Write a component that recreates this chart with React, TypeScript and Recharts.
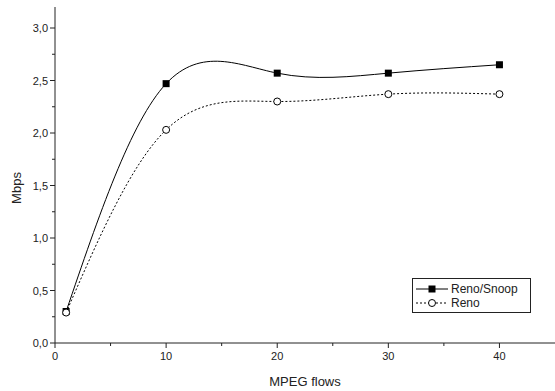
import React from 'react';
import { LineChart, Line, XAxis, YAxis, Legend } from 'recharts';

const xValues = [1, 10, 20, 30, 40];
const renoSnoop = [0.3, 2.47, 2.57, 2.57, 2.65];
const reno = [0.29, 2.03, 2.3, 2.37, 2.37];
const xTicks = [0, 5, 10, 15, 20, 25, 30, 35, 40];
const xMajor = [0, 10, 20, 30, 40];
const yTicks = [0, 0.25, 0.5, 0.75, 1, 1.25, 1.5, 1.75, 2, 2.25, 2.5, 2.75, 3];
const yMajor = [0, 0.5, 1, 1.5, 2, 2.5, 3];

const data = xValues.map((x, i) => ({ x, renoSnoop: renoSnoop[i], reno: reno[i] }));

const FONT = '"Liberation Sans", Arial, sans-serif';
const INK = '#222';

const XTick = (props: any) => {
  const { x, y, payload } = props;
  const v = payload.value;
  const major = xMajor.includes(v);
  return (
    <g>
      <line x1={x} x2={x} y1={y} y2={y + (major ? 5 : 3)} stroke={INK} strokeWidth={1} />
      {major && (
        <text x={x} y={y + 17} textAnchor="middle" fontSize={11} fontFamily={FONT} fill={INK}>
          {String(v)}
        </text>
      )}
    </g>
  );
};

const YTick = (props: any) => {
  const { x, y, payload } = props;
  const v = payload.value;
  const major = yMajor.some((m) => Math.abs(m - v) < 1e-9);
  return (
    <g>
      <line x1={x} x2={x - (major ? 5 : 3)} y1={y} y2={y} stroke={INK} strokeWidth={1} />
      {major && (
        <text x={x - 7} y={y + 4} textAnchor="end" fontSize={11} fontFamily={FONT} fill={INK}>
          {v.toFixed(1).replace('.', ',')}
        </text>
      )}
    </g>
  );
};

const Square = (props: any) => {
  const { cx, cy } = props;
  if (cx == null || cy == null) return null;
  return <rect x={cx - 3.5} y={cy - 3.5} width={7} height={7} fill="#000" />;
};

const Circle = (props: any) => {
  const { cx, cy } = props;
  if (cx == null || cy == null) return null;
  return <circle cx={cx} cy={cy} r={3.5} fill="#fff" stroke="#000" strokeWidth={1} />;
};

const LegendContent = () => (
  <div
    style={{
      border: `1px solid ${INK}`,
      width: 119,
      height: 35,
      boxSizing: 'border-box',
      fontFamily: FONT,
      fontSize: 12,
      color: INK,
      paddingLeft: 3,
      paddingTop: 3,
      background: '#fff',
    }}
  >
    <div style={{ display: 'flex', alignItems: 'center', height: 14 }}>
      <svg width={32} height={12} style={{ marginRight: 3 }}>
        <line x1={0} x2={32} y1={6} y2={6} stroke="#000" strokeWidth={1} />
        <rect x={12.5} y={2.5} width={7} height={7} fill="#000" />
      </svg>
      <span>Reno/Snoop</span>
    </div>
    <div style={{ display: 'flex', alignItems: 'center', height: 14 }}>
      <svg width={32} height={12} style={{ marginRight: 3 }}>
        <line x1={0} x2={32} y1={6} y2={6} stroke="#000" strokeWidth={1} strokeDasharray="2 2" />
        <circle cx={16} cy={6} r={3.5} fill="#fff" stroke="#000" strokeWidth={1} />
      </svg>
      <span>Reno</span>
    </div>
  </div>
);

export default function App() {
  return (
    <div style={{ position: 'absolute', left: 0, top: 0, width: 555, height: 391, background: '#fff' }}>
      <LineChart width={555} height={391} data={data} margin={{ top: 7, right: 0, left: 0, bottom: 0 }}>
        <XAxis
          dataKey="x"
          type="number"
          domain={[0, 45]}
          ticks={xTicks}
          interval={0}
          tickLine={false}
          tickSize={0}
          tickMargin={0}
          tick={<XTick />}
          height={48}
          stroke={INK}
          axisLine={{ stroke: INK, strokeWidth: 1 }}
          label={(p: any) => {
            const vb = p.viewBox;
            return (
              <text x={vb.x + vb.width / 2} y={vb.y + 43} textAnchor="middle" fontSize={13} fontFamily={FONT} fill={INK}>
                MPEG flows
              </text>
            );
          }}
        />
        <YAxis
          type="number"
          domain={[0, 3.2]}
          ticks={yTicks}
          interval={0}
          tickLine={false}
          tickSize={0}
          tickMargin={0}
          tick={<YTick />}
          width={55}
          axisLine={{ stroke: INK, strokeWidth: 1 }}
          label={() => (
            <text x={21} y={188} transform="rotate(-90, 21, 188)" textAnchor="middle" fontSize={13} fontFamily={FONT} fill={INK}>
              Mbps
            </text>
          )}
        />
        <Legend
          layout="horizontal"
          verticalAlign="middle"
          align="center"
          content={<LegendContent />}
          wrapperStyle={{ position: 'absolute', left: 412, top: 278, width: 119, height: 35 }}
        />
        <Line
          type="natural"
          dataKey="renoSnoop"
          name="Reno/Snoop"
          stroke="#000"
          strokeWidth={1}
          dot={<Square />}
          activeDot={false}
          isAnimationActive={false}
        />
        <Line
          type="natural"
          dataKey="reno"
          name="Reno"
          stroke="#000"
          strokeWidth={1}
          strokeDasharray="2 2"
          dot={<Circle />}
          activeDot={false}
          isAnimationActive={false}
        />
      </LineChart>
    </div>
  );
}
